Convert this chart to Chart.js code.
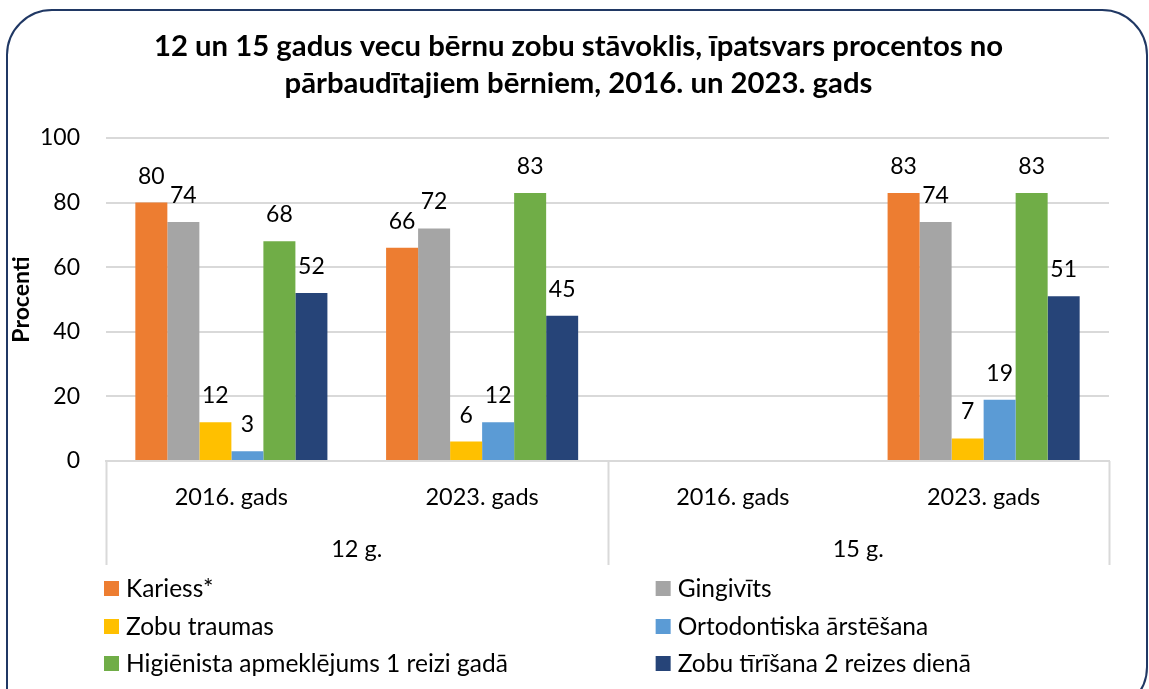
<!DOCTYPE html>
<html>
<head>
<meta charset="utf-8">
<script src="https://cdn.jsdelivr.net/npm/chart.js@4.4.1/dist/chart.umd.min.js"></script>
<style>
  html, body { margin: 0; padding: 0; background: #fff; overflow: hidden; }
  #wrap { position: relative; width: 1149px; height: 689px; }
  #frame { position: absolute; left: 6px; top: 9px; width: 1138px; height: 700px;
           border: 2.5px solid #203864; border-radius: 46px 46px 46px 8px; pointer-events: none; }
  canvas { position: absolute; left: 0; top: 0; }
</style>
</head>
<body>
<div id="wrap">
  <canvas id="c" width="1149" height="689"></canvas>
  <div id="frame"></div>
</div>
<script>
const titleLines = ['12 un 15 gadus vecu bērnu zobu stāvoklis, īpatsvars procentos no',
                    'pārbaudītajiem bērniem, 2016. un 2023. gads'];
const categories = ['2016. gads', '2023. gads', '2016. gads', '2023. gads'];
const groups = ['12 g.', '15 g.'];
const seriesNames = ['Kariess*', 'Gingivīts', 'Zobu traumas', 'Ortodontiska ārstēšana',
                     'Higiēnista apmeklējums 1 reizi gadā', 'Zobu tīrīšana 2 reizes dienā'];
const kariess    = [80, 66, null, 83];
const gingivits  = [74, 72, null, 74];
const traumas    = [12, 6, null, 7];
const ortodont   = [3, 12, null, 19];
const higienists = [68, 83, null, 83];
const tirisana   = [52, 45, null, 51];
const colors = ['#ED7D31', '#A5A5A5', '#FFC000', '#5B9BD5', '#70AD47', '#264478'];
const yMin = 0, yMax = 100, yStep = 20;
const yTitle = 'Procenti';

const FONT = 'Lato, "Open Sans", sans-serif';
const seriesValues = [kariess, gingivits, traumas, ortodont, higienists, tirisana];

const datasets = seriesValues.map((vals, i) => ({
  label: seriesNames[i],
  data: vals,
  backgroundColor: colors[i],
  borderWidth: 0,
  categoryPercentage: 0.766,
  barPercentage: 1.0
}));

const chartTitle = {
  id: 'chartTitle',
  afterDraw(chart) {
    const ctx = chart.ctx;
    ctx.save();
    ctx.font = 'bold 29.3px ' + FONT;
    ctx.fillStyle = '#000';
    ctx.textAlign = 'center';
    ctx.textBaseline = 'middle';
    const cx = chart.width / 2 + 4;
    titleLines.forEach((t, i) => ctx.fillText(t, cx, 47 + i * 37));
    ctx.restore();
  }
};

const valueLabels = {
  id: 'valueLabels',
  afterDatasetsDraw(chart) {
    const ctx = chart.ctx;
    ctx.save();
    ctx.font = '23px ' + FONT;
    ctx.fillStyle = '#000';
    ctx.textAlign = 'center';
    ctx.textBaseline = 'alphabetic';
    chart.data.datasets.forEach((ds, i) => {
      const meta = chart.getDatasetMeta(i);
      meta.data.forEach((bar, j) => {
        const v = ds.data[j];
        if (v === null || v === undefined) return;
        ctx.fillText(String(v), bar.x, bar.y - 19);
      });
    });
    ctx.restore();
  }
};

const groupAxis = {
  id: 'groupAxis',
  afterDraw(chart) {
    const ctx = chart.ctx;
    const xs = chart.scales.x;
    const top = chart.chartArea.bottom;
    const bottom = xs.bottom + 2;
    const per = categories.length / groups.length;
    ctx.save();
    ctx.strokeStyle = '#d9d9d9';
    ctx.lineWidth = 2;
    const bounds = [xs.left];
    for (let g = 1; g < groups.length; g++) {
      const a = xs.getPixelForTick(g * per - 1), b = xs.getPixelForTick(g * per);
      bounds.push((a + b) / 2);
    }
    bounds.push(xs.right);
    bounds.forEach(x => {
      ctx.beginPath(); ctx.moveTo(Math.round(x) + 0.5, top); ctx.lineTo(Math.round(x) + 0.5, bottom); ctx.stroke();
    });
    ctx.font = '23.5px ' + FONT;
    ctx.fillStyle = '#000';
    ctx.textAlign = 'center';
    ctx.textBaseline = 'middle';
    groups.forEach((g, i) => {
      ctx.fillText(g, (bounds[i] + bounds[i + 1]) / 2, xs.top + 88);
    });
    ctx.restore();
  }
};

const gridLegend = {
  id: 'gridLegend',
  afterDraw(chart) {
    const ctx = chart.ctx;
    const xs = chart.scales.x;
    const area = chart.chartArea;
    const colX = [area.left - 2, area.left + (area.right - area.left) * 0.548];
    const rowY = [xs.bottom + 25, xs.bottom + 63, xs.bottom + 100];
    ctx.save();
    ctx.font = '24.5px ' + FONT;
    ctx.textBaseline = 'middle';
    ctx.textAlign = 'left';
    chart.data.datasets.forEach((ds, i) => {
      const x = colX[i % 2], y = rowY[Math.floor(i / 2)];
      ctx.fillStyle = ds.backgroundColor;
      ctx.fillRect(x, y - 7, 15, 15);
      ctx.fillStyle = '#000';
      ctx.fillText(ds.label, x + 22, y + 1);
    });
    ctx.restore();
  }
};

new Chart(document.getElementById('c'), {
  type: 'bar',
  data: { labels: categories, datasets },
  options: {
    responsive: false,
    animation: false,
    devicePixelRatio: 1,
    layout: { padding: { left: 10, right: 40, top: 138, bottom: 126 } },
    plugins: {
      legend: { display: false },
      tooltip: { enabled: false },
      title: { display: false }
    },
    scales: {
      x: {
        grid: { display: false, drawTicks: false },
        border: { display: true, color: '#d9d9d9', width: 2 },
        ticks: { color: '#000', font: { family: FONT, size: 23.5 }, padding: 22, maxRotation: 0, autoSkip: false },
        afterFit(s) { s.height = 102; }
      },
      y: {
        min: yMin, max: yMax,
        ticks: { stepSize: yStep, color: '#000', font: { family: FONT, size: 23 }, padding: 26 },
        grid: { color: '#d9d9d9', lineWidth: 2, drawTicks: false },
        border: { display: false },
        title: { display: true, text: yTitle, color: '#000', font: { family: FONT, size: 23, weight: 'bold', lineHeight: 1.0 }, padding: { top: 0, bottom: 0 } },
        afterFit(s) { s.width = 96; }
      }
    }
  },
  plugins: [chartTitle, valueLabels, groupAxis, gridLegend]
});
</script>
</body>
</html>
